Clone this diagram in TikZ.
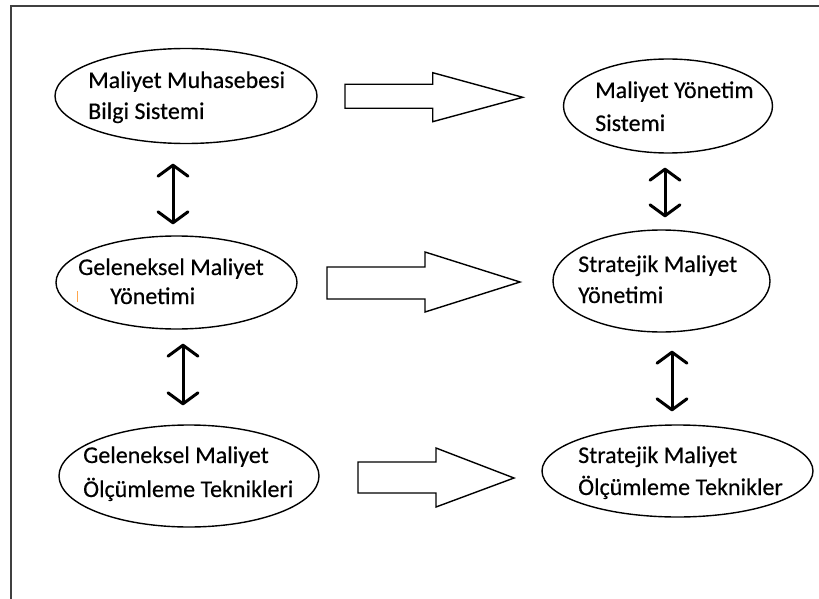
\documentclass[tikz,border=0pt]{standalone}
\usepackage{fontspec}
\setmainfont{Carlito}[FakeBold=0.35]
\usetikzlibrary{arrows.meta,shapes.geometric,calc}
\begin{document}
\begin{tikzpicture}[x=1pt,y=-1pt,
  oval/.style={draw, ellipse, line width=1.4pt, inner sep=0pt},
  lbl/.style={anchor=base west, inner sep=0pt, font=\fontsize{24}{29}\selectfont, text=black},
  blockarrow/.style={draw, line width=1.4pt, line join=miter, fill=white},
  barb/.tip={Straight Barb[length=11pt,width=30pt,line cap=round,line join=round]},
  twoway/.style={line width=3pt, barb-barb},
  frameline/.style={line width=1.6pt, black!75}
]
\useasboundingbox (0,0) rectangle (819,599);

% outer frame (open on the right and at the bottom)
\draw[frameline] (11,599) -- (11,6) -- (819,6);

% ovals
\node[oval, minimum width=262pt, minimum height=95pt]  (e1) at (186,96) {};
\node[oval, minimum width=241pt, minimum height=93pt]  (e2) at (176.5,282.5) {};
\node[oval, minimum width=260pt, minimum height=102pt] (e3) at (189,476) {};
\node[oval, minimum width=209pt, minimum height=94pt]  (e4) at (668,106) {};
\node[oval, minimum width=217pt, minimum height=102pt] (e5) at (661.5,281) {};
\node[oval, minimum width=271pt, minimum height=92pt]  (e6) at (677.5,471) {};

% labels
\node[lbl] (t1a) at (88,88)  {Maliyet Muhasebesi};
\node[lbl] (t1b) at (88,119) {Bilgi Sistemi};
\node[lbl] (t2a) at (78,275) {Geleneksel Maliyet};
\node[lbl] (t2b) at (110,304) {Yönetimi};
\node[lbl] (t3a) at (83,463) {Geleneksel Maliyet};
\node[lbl] (t3b) at (83,497) {Ölçümleme Teknikleri};
\node[lbl] (t4a) at (595,98)  {Maliyet Yönetim};
\node[lbl] (t4b) at (595,131) {Sistemi};
\node[lbl] (t5a) at (578,272) {Stratejik Maliyet};
\node[lbl] (t5b) at (578,303) {Yönetimi};
\node[lbl] (t6a) at (578,463) {Stratejik Maliyet};
\node[lbl] (t6b) at (578,495) {Ölçümleme Teknikler};

% stray mark beside the second oval's text
\draw[orange!70, line width=1pt] (77,291) -- (77,302);

% two-way links between the ovals of each column
\draw[twoway] ($(e1.south)+(-13,19.5)$) -- ($(e2.north)+(-3.5,-11)$);
\draw[twoway] ($(e2.south)+(6.5,14)$)   -- ($(e3.north)+(-6,-19)$);
\draw[twoway] ($(e4.south)+(-3,14)$)    -- ($(e5.north)+(3.5,-12)$);
\draw[twoway] ($(e5.south)+(10.5,18)$)  -- ($(e6.north)+(-5.5,-13)$);

% block arrows from the left column to the right column
\draw[blockarrow] (345,84.3) -- (432.7,84.3) -- (432.7,72.7) -- (522.7,97.3)
  -- (432.7,121.7) -- (432.7,108.3) -- (345,108.3) -- cycle;
\draw[blockarrow] (327,267) -- (425,267) -- (425,252) -- (520,282)
  -- (425,312) -- (425,299) -- (327,299) -- cycle;
\draw[blockarrow] (358,462) -- (436,462) -- (436,448) -- (514,478)
  -- (436,507) -- (436,493) -- (358,493) -- cycle;
\end{tikzpicture}
\end{document}
